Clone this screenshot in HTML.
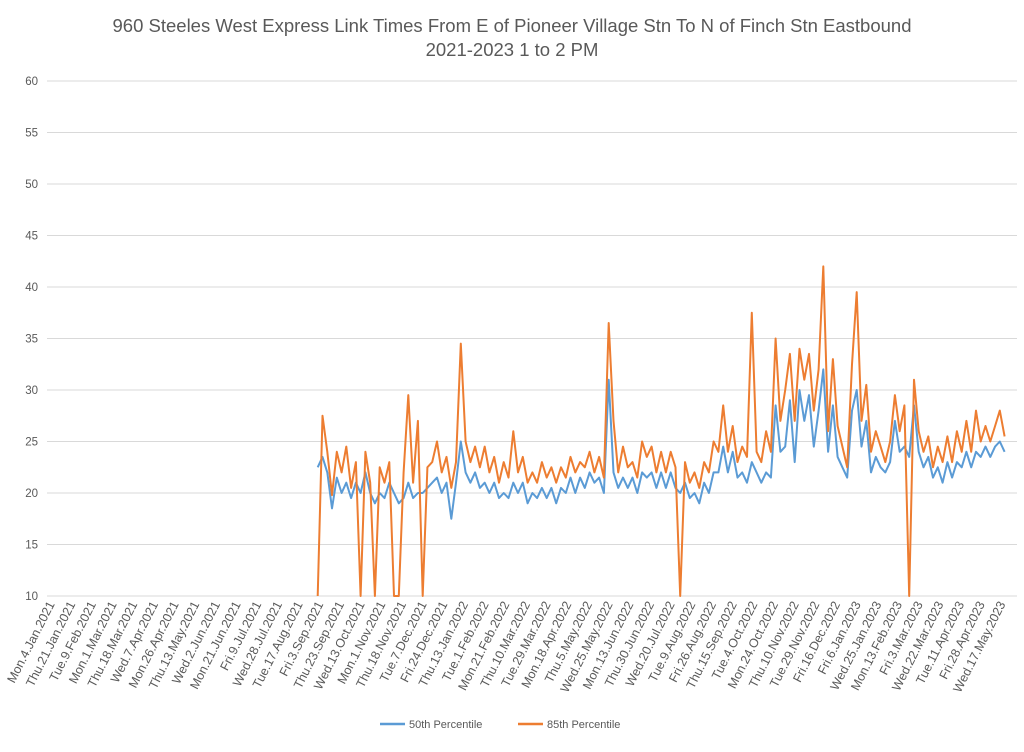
<!DOCTYPE html>
<html><head><meta charset="utf-8"><style>
body{margin:0;background:#fff;}
svg text{font-family:"Liberation Sans",sans-serif;fill:#595959;}
</style></head><body>
<svg id="chart" width="1024" height="747" xmlns="http://www.w3.org/2000/svg">
<rect width="1024" height="747" fill="#fff"/>
<text x="512" y="32" text-anchor="middle" font-size="18.5">960 Steeles West Express Link Times From E of Pioneer Village Stn To N of Finch Stn Eastbound</text>
<text x="512" y="56" text-anchor="middle" font-size="18.5">2021-2023 1 to 2 PM</text>
<g id="grid"></g><g id="yticks"></g><g id="xticks"></g><g id="series"></g>
<g>
<line x1="380" y1="724" x2="405" y2="724" stroke="#5b9bd5" stroke-width="2.5"/>
<text x="409" y="728" font-size="11">50th Percentile</text>
<line x1="518" y1="724" x2="543" y2="724" stroke="#ed7d31" stroke-width="2.5"/>
<text x="547" y="728" font-size="11">85th Percentile</text>
</g>
</svg>
<script>
const yTicks=[10,15,20,25,30,35,40,45,50,55,60];
const xLabels=["Mon.4.Jan.2021","Thu.21.Jan.2021","Tue.9.Feb.2021","Mon.1.Mar.2021","Thu.18.Mar.2021","Wed.7.Apr.2021","Mon.26.Apr.2021","Thu.13.May.2021","Wed.2.Jun.2021","Mon.21.Jun.2021","Fri.9.Jul.2021","Wed.28.Jul.2021","Tue.17.Aug.2021","Fri.3.Sep.2021","Thu.23.Sep.2021","Wed.13.Oct.2021","Mon.1.Nov.2021","Thu.18.Nov.2021","Tue.7.Dec.2021","Fri.24.Dec.2021","Thu.13.Jan.2022","Tue.1.Feb.2022","Mon.21.Feb.2022","Thu.10.Mar.2022","Tue.29.Mar.2022","Mon.18.Apr.2022","Thu.5.May.2022","Wed.25.May.2022","Mon.13.Jun.2022","Thu.30.Jun.2022","Wed.20.Jul.2022","Tue.9.Aug.2022","Fri.26.Aug.2022","Thu.15.Sep.2022","Tue.4.Oct.2022","Mon.24.Oct.2022","Thu.10.Nov.2022","Tue.29.Nov.2022","Fri.16.Dec.2022","Fri.6.Jan.2023","Wed.25.Jan.2023","Mon.13.Feb.2023","Fri.3.Mar.2023","Wed.22.Mar.2023","Tue.11.Apr.2023","Fri.28.Apr.2023","Wed.17.May.2023"];
const labelEvery=13;
const dataStart=169;
const dataStep=3;
const p85=[10,27.5,24,19.8,24,22,24.5,20.5,23,10,24,21,10,22.5,21,23,10,10,22,29.5,21,27,10,22.5,23,25,22,23.5,20.5,23,34.5,25,23,24.5,22.5,24.5,22,23.5,21,23,21.5,26,22,23.5,21,22,21,23,21.5,22.5,21,22.5,21.5,23.5,22,23,22.5,24,22,23.5,21.5,36.5,27,22,24.5,22.5,23,21.5,25,23.5,24.5,22,24,22,24,22.5,10,23,21,22,20.5,23,22,25,24,28.5,24,26.5,23,24.5,23.5,37.5,24,23,26,24,35,27,30,33.5,27,34,31,33.5,28,32,42,26,33,26.5,24.5,22.5,32.5,39.5,27,30.5,24,26,24.5,23,25,29.5,26,28.5,10,31,26,24,25.5,22.5,24.5,23,25.5,23,26,24,27,24,28,25,26.5,25,26.5,28,25.5];
const p50=[22.5,23.5,22,18.5,21.5,20,21,19.5,21,20,22,20,19,20,19.5,21,20,19,19.5,21,19.5,20,20,20.5,21,21.5,20,21,17.5,21,25,22,21,22,20.5,21,20,21,19.5,20,19.5,21,20,21,19,20,19.5,20.5,19.5,20.5,19,20.5,20,21.5,20,21.5,20.5,22,21,21.5,20,31,22,20.5,21.5,20.5,21.5,20,22,21.5,22,20.5,22,20.5,22,20.5,20,21,19.5,20,19,21,20,22,22,24.5,22,24,21.5,22,21,23,22,21,22,21.5,28.5,24,24.5,29,23,30,27,29.5,24.5,28,32,24,28.5,23.5,22.5,21.5,28,30,24.5,27,22,23.5,22.5,22,23,27,24,24.5,23.5,28.5,24,22.5,23.5,21.5,22.5,21,23,21.5,23,22.5,24,22.5,24,23.5,24.5,23.5,24.5,25,24];
const NS="http://www.w3.org/2000/svg";
const X0=49, PX=1.59, Y10=596, PXU=10.3;
const xs=i=>X0+i*PX;
const ys=v=>Y10-(v-10)*PXU;
function mk(t,a,p){const e=document.createElementNS(NS,t);for(const k in a)e.setAttribute(k,a[k]);p.appendChild(e);return e;}
const grid=document.getElementById('grid'),yt=document.getElementById('yticks'),xt=document.getElementById('xticks'),ser=document.getElementById('series');
yTicks.forEach(v=>{
 const l=mk('line',{x1:47,x2:1017,y1:ys(v),y2:ys(v),stroke:'#d9d9d9','stroke-width':1},grid);
 
 
 const t=mk('text',{x:38,y:ys(v)+4,'text-anchor':'end','font-size':11.5},yt);
 t.textContent=v;
 
 
});
xLabels.forEach((s,i)=>{
 const x=xs(i*labelEvery)+6,y=604;
 const t=mk('text',{x:x,y:y,'text-anchor':'end','font-size':12.5,transform:`rotate(-63 ${x} ${y})`},xt);
 t.textContent=s;
 
 
});
function line(arr,color,name){
 const pts=arr.map((v,k)=>xs(dataStart+k*dataStep).toFixed(1)+','+ys(v).toFixed(1)).join(' ');
 const p=mk('polyline',{points:pts,fill:'none',stroke:color,'stroke-width':2,'stroke-linejoin':'round'},ser);
 
 
}
line(p50,'#5b9bd5','series-50th-percentile');
line(p85,'#ed7d31','series-85th-percentile');
</script>
</body></html>
